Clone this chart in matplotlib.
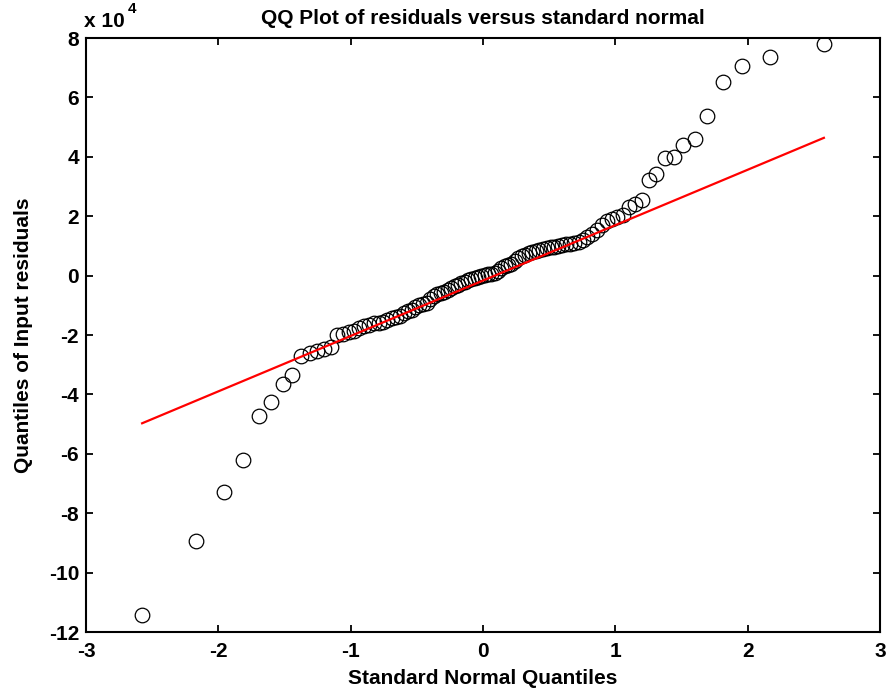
import matplotlib
matplotlib.use("Agg")
import matplotlib.pyplot as plt
import numpy as np
from statistics import NormalDist
from matplotlib.ticker import FuncFormatter

plt.rcParams["font.family"] = ["Liberation Sans", "DejaVu Sans"]
plt.rcParams["font.weight"] = "bold"
plt.rcParams["axes.unicode_minus"] = False

# Sorted residuals (in units of 1e4)
residuals_1e4 = [
    -11.43, -8.94, -7.30, -6.22, -4.72, -4.27, -3.65, -3.33, -2.72, -2.62,
    -2.55, -2.48, -2.40, -2.00, -1.95, -1.90, -1.85, -1.75, -1.70, -1.65,
    -1.60, -1.58, -1.55, -1.48, -1.44, -1.40, -1.35, -1.25, -1.20, -1.15,
    -1.05, -1.00, -0.97, -0.93, -0.80, -0.70, -0.62, -0.60, -0.55, -0.50,
    -0.42, -0.35, -0.30, -0.25, -0.20, -0.15, -0.12, -0.08, -0.04, 0.00,
    0.02, 0.04, 0.06, 0.10, 0.15, 0.25, 0.32, 0.35, 0.40, 0.50,
    0.58, 0.65, 0.70, 0.75, 0.80, 0.82, 0.85, 0.90, 0.92, 0.95,
    0.98, 1.00, 1.03, 1.05, 1.07, 1.10, 1.12, 1.20, 1.30, 1.40,
    1.55, 1.70, 1.85, 1.92, 1.97, 2.05, 2.30, 2.42, 2.55, 3.22,
    3.42, 3.95, 4.00, 4.39, 4.59, 5.37, 6.52, 7.06, 7.37, 7.79,
]
residuals = np.array(residuals_1e4) * 1e4

n = len(residuals)
nd = NormalDist()
theo = np.array([nd.inv_cdf((i - 0.5) / n) for i in range(1, n + 1)])

# reference line through first and third quartiles
q1x, q3x = np.percentile(theo, [25, 75])
q1y, q3y = np.percentile(residuals, [25, 75])
slope = (q3y - q1y) / (q3x - q1x)
line_x = np.array([theo.min(), theo.max()])
line_y = q1y + slope * (line_x - q1x)

fig = plt.figure(figsize=(8.9, 6.95), dpi=100)
ax = fig.add_axes([0.0966, 0.0906, 0.8922, 0.8547])

ax.plot(theo, residuals, "o", ms=10.5, mfc="none", mec="black", mew=0.9)
ax.plot(line_x, line_y, "-", color="red", lw=1.6)

ax.set_xlim(-3, 3)
ax.set_ylim(-12e4, 8e4)
ax.set_xticks(range(-3, 4))
ax.set_yticks(np.arange(-12, 9, 2) * 1e4)
ax.yaxis.set_major_formatter(FuncFormatter(lambda v, p: "%d" % round(v / 1e4)))

ax.tick_params(direction="in", length=5, width=1.3, labelsize=15,
               top=True, right=True, pad=5)
ax.tick_params(axis="x", pad=7)
for s in ax.spines.values():
    s.set_linewidth(1.5)

ax.set_title("QQ Plot of residuals versus standard normal", fontsize=15,
             fontweight="bold", pad=10)
ax.set_xlabel("Standard Normal Quantiles", fontsize=15, fontweight="bold", labelpad=6)
ax.set_ylabel("Quantiles of Input residuals", fontsize=15, fontweight="bold", labelpad=11)

ax.text(-0.002, 1.012, "x 10", transform=ax.transAxes, fontsize=15,
        fontweight="bold", va="bottom", ha="left")
ax.text(0.053, 1.037, "4", transform=ax.transAxes, fontsize=11,
        fontweight="bold", va="bottom", ha="left")

fig.savefig("out.png", dpi=100)
